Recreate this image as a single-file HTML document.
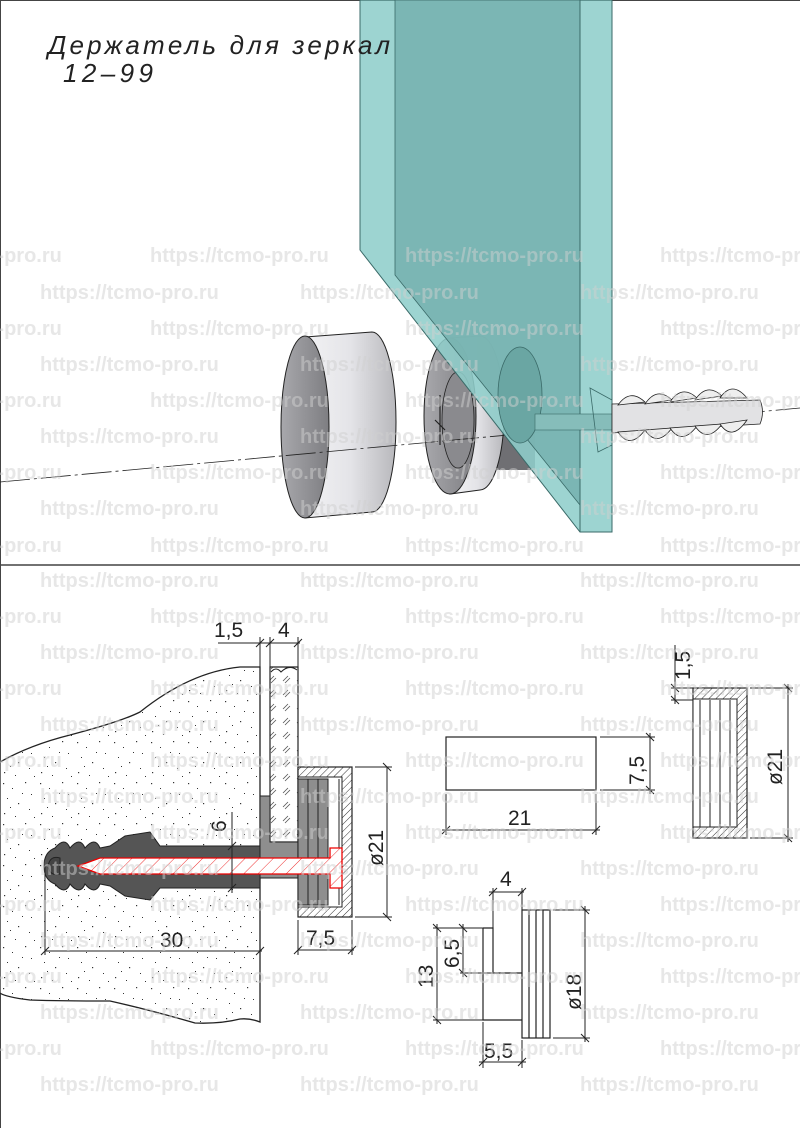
<!DOCTYPE html>
<html><head><meta charset="utf-8"><style>html,body{margin:0;padding:0;background:#fff}svg{display:block}</style></head><body>
<svg width="800" height="1128" viewBox="0 0 800 1128" xmlns="http://www.w3.org/2000/svg" font-family="Liberation Sans, sans-serif">
<defs>
<pattern id="dots" width="37" height="41" patternUnits="userSpaceOnUse">
<g fill="#333"><rect x="3" y="4" width="1.2" height="1.2"/><rect x="12" y="9" width="1" height="1"/><rect x="25" y="3" width="1.2" height="1.2"/><rect x="31" y="15" width="1" height="1"/><rect x="7" y="19" width="1" height="1"/><rect x="18" y="24" width="1.2" height="1.2"/><rect x="29" y="30" width="1" height="1"/><rect x="4" y="34" width="1.2" height="1.2"/><rect x="15" y="37" width="1" height="1"/><rect x="22" y="14" width="1" height="1"/><rect x="34" y="38" width="1" height="1"/><rect x="10" y="28" width="1" height="1"/></g>
</pattern>
<pattern id="hatch" width="5" height="5" patternUnits="userSpaceOnUse" patternTransform="rotate(45)"><rect width="5" height="5" fill="#fff"/><line x1="0" y1="0" x2="0" y2="5" stroke="#333" stroke-width="1"/></pattern>
<pattern id="ghatch" width="14" height="14" patternUnits="userSpaceOnUse"><rect width="14" height="14" fill="#fff"/><path d="M3 9 L8 4 M5 11 L10 6" stroke="#555" stroke-width="0.8"/></pattern>
<pattern id="rhatch" width="10" height="10" patternUnits="userSpaceOnUse" patternTransform="rotate(45)"><rect width="10" height="10" fill="#fff"/><line x1="0" y1="0" x2="0" y2="10" stroke="#e33" stroke-width="1"/></pattern>
<linearGradient id="cyl" x1="0" y1="0" x2="1" y2="0"><stop offset="0" stop-color="#f2f2f4"/><stop offset="0.5" stop-color="#e4e4e8"/><stop offset="1" stop-color="#b8b8bc"/></linearGradient>
<linearGradient id="face" x1="0" y1="0" x2="1" y2="0"><stop offset="0" stop-color="#a8a8ac"/><stop offset="1" stop-color="#7e7e82"/></linearGradient>
</defs>
<rect width="800" height="1128" fill="#fff"/>
<line x1="0" y1="0" x2="0" y2="1128" stroke="#444" stroke-width="2"/>
<line x1="0" y1="0.5" x2="800" y2="0.5" stroke="#444"/>
<line x1="0" y1="565" x2="800" y2="565" stroke="#444" stroke-width="1.5"/>

<!-- ===== TOP 3D ===== -->
<path d="M305 337 L372 332 A24 90 0 0 1 372 512 L305 518 Z" fill="url(#cyl)" stroke="#222"/>
<ellipse cx="305" cy="427" rx="24" ry="91" fill="url(#face)" stroke="#222"/>
<rect x="495" y="425" width="40" height="45" fill="#6f6f73"/>
<path d="M450 338 L480 336 A24 77 0 0 1 480 490 L450 494 Z" fill="url(#cyl)" stroke="#222"/>
<ellipse cx="450" cy="416" rx="26" ry="78" fill="url(#face)" stroke="#222"/>
<ellipse cx="458" cy="420" rx="16" ry="48" fill="#8a8a8e" stroke="#222" stroke-width="0.8"/>
<path d="M440 395 V445 M435 420 L445 430" stroke="#222" stroke-width="1.2"/>
<path d="M0 482 L800 408" stroke="#222" stroke-width="0.8" stroke-dasharray="30 4 3 4"/>
<polygon points="360,0 612,0 612,532 580,532 360,250" fill="#8fcecb" fill-opacity="0.88" stroke="#3a6a68"/>
<polygon points="395,0 580,0 580,505 395,275" fill="#78b3b0" fill-opacity="0.9" stroke="#3a6a68" stroke-width="0.8"/>
<line x1="580" y1="0" x2="580" y2="532" stroke="#3a6a68"/>
<ellipse cx="520" cy="395" rx="22" ry="48" fill="#6aa6a3" stroke="#3a6a68" stroke-width="0.8"/>
<rect x="535" y="414" width="78" height="16" fill="#86bdba" stroke="#3a6a68" stroke-width="0.6"/>
<path d="M590 388 L612 400 L612 445 L598 452 Z" fill="none" stroke="#3a6a68" stroke-width="0.8"/>
<path d="M612 404 L760 400 Q765 412 760 424 L612 433 Z" fill="#e2e2e4" stroke="#222" stroke-width="0.8"/>
<g fill="#eee" stroke="#222" stroke-width="0.8">
<path d="M618 405 Q630 388 645 402 Z"/><path d="M645 404 Q657 386 672 400 Z"/><path d="M670 402 Q682 384 697 398 Z"/><path d="M695 400 Q707 382 722 396 Z"/><path d="M720 398 Q732 380 747 398 Z"/>
<path d="M618 432 Q630 450 645 430 Z"/><path d="M645 430 Q657 448 672 428 Z"/><path d="M670 428 Q682 446 697 426 Z"/><path d="M695 426 Q707 444 722 424 Z"/><path d="M720 424 Q732 442 747 420 Z"/>
</g>
<text x="48" y="54" font-size="26" font-style="italic" fill="#222" textLength="342" lengthAdjust="spacing">Держатель для зеркал</text>
<text x="63" y="82" font-size="26" font-style="italic" fill="#222" textLength="90" lengthAdjust="spacing">12–99</text>

<!-- ===== BOTTOM LEFT SECTION ===== -->
<path d="M260 667 L260 1022 Q250 1018 240 1019 Q220 1024 195 1023 Q150 1010 110 1001 Q60 1001 30 1000 Q5 997 0 993 L0 762 Q30 745 70 735 Q120 722 140 712 Q190 672 240 667 Z" fill="#fff" stroke="#222" stroke-width="1.3"/>
<path d="M260 667 L260 1022 Q250 1018 240 1019 Q220 1024 195 1023 Q150 1010 110 1001 Q60 1001 30 1000 Q5 997 0 993 L0 762 Q30 745 70 735 Q120 722 140 712 Q190 672 240 667 Z" fill="url(#dots)"/>
<path d="M270 667 L298 667 L298 842 L270 842 Z" fill="url(#ghatch)" stroke="#222" stroke-width="1.2"/>
<path d="M271 672 Q276 666 281 672 Q289 664 297 670" fill="#fff" stroke="#222"/>
<line x1="260" y1="667" x2="260" y2="796" stroke="#222"/>
<path d="M260 796 L270 796 L270 842 L298 842 L298 878 L260 878 Z" fill="#8e8e8e" stroke="#222"/>
<rect x="298" y="767" width="54" height="150" fill="url(#hatch)" stroke="#222" stroke-width="1.2"/>
<rect x="298" y="777" width="44" height="130" fill="#fff" stroke="#222"/>
<rect x="298" y="779" width="30" height="126" fill="#8e8e8e" stroke="#222"/>
<line x1="308" y1="779" x2="308" y2="905" stroke="#222"/><line x1="318" y1="779" x2="318" y2="905" stroke="#222"/>
<line x1="339" y1="779" x2="339" y2="905" stroke="#222"/>
<path d="M260 846 L160 846 L150 832 L125 836 L110 846 L100 848 Q95 836 85 848 Q80 836 70 848 Q65 836 55 848 Q44 852 44 866 Q44 880 55 884 Q65 896 70 884 Q80 896 85 884 Q95 896 100 884 L110 886 L125 896 L150 900 L160 888 L260 888 Z" fill="#555" stroke="#222"/>
<path d="M48 866 Q50 855 60 858 L60 874 Q50 877 48 866 Z" fill="#444" stroke="#222"/>
<path d="M78 866 L100 858 L330 858 L330 848 L342 848 L342 888 L330 888 L330 874 L100 874 Z" fill="url(#rhatch)" stroke="#e00" stroke-width="1.3"/>
<g stroke="#222" stroke-width="1" fill="none">
<line x1="218" y1="643" x2="300" y2="643"/><line x1="260" y1="637" x2="260" y2="667"/><line x1="270" y1="637" x2="270" y2="667"/><line x1="298" y1="637" x2="298" y2="667"/>
<path d="M256 647 L264 639 M266 647 L274 639 M294 647 L302 639"/>
<line x1="232" y1="812" x2="232" y2="893"/><line x1="228" y1="846" x2="260" y2="846"/><line x1="228" y1="888" x2="260" y2="888"/>
<path d="M228 850 L236 842 M228 892 L236 884"/>
<line x1="45" y1="951" x2="262" y2="951"/><line x1="45" y1="866" x2="45" y2="955"/><path d="M41 955 L49 947 M256 955 L264 947"/>
<line x1="387" y1="767" x2="387" y2="917"/><line x1="355" y1="767" x2="392" y2="767"/><line x1="355" y1="917" x2="392" y2="917"/><path d="M383 763 L391 771 M383 913 L391 921"/>
<line x1="298" y1="950" x2="354" y2="950"/><line x1="298" y1="920" x2="298" y2="955"/><line x1="352" y1="920" x2="352" y2="955"/><path d="M294 954 L302 946 M348 954 L356 946"/>
</g>
<g font-size="21" fill="#222">
<text x="214" y="637">1,5</text><text x="278" y="637">4</text>
<text x="160" y="947">30</text><text x="306" y="945">7,5</text>
<text transform="translate(226 832) rotate(-90)">6</text>
<text transform="translate(383 866) rotate(-90)">ø21</text>
</g>

<rect x="446" y="737" width="150" height="53" fill="none" stroke="#222" stroke-width="1.2"/>
<g stroke="#222" fill="none">
<line x1="600" y1="737" x2="655" y2="737"/><line x1="600" y1="790" x2="655" y2="790"/><line x1="650" y1="733" x2="650" y2="794"/>
<path d="M646 733 L654 741 M646 786 L654 794"/>
<line x1="446" y1="794" x2="446" y2="835"/><line x1="596" y1="794" x2="596" y2="835"/><line x1="442" y1="830" x2="600" y2="830"/>
<path d="M442 834 L450 826 M592 834 L600 826"/>
</g>
<text x="508" y="825" font-size="21" fill="#222">21</text>
<text transform="translate(644 785) rotate(-90)" font-size="21" fill="#222">7,5</text>

<rect x="693" y="688" width="54" height="150" fill="url(#hatch)" stroke="#222" stroke-width="1.2"/>
<rect x="693" y="699" width="44" height="128" fill="#fff" stroke="#222"/>
<g stroke="#222"><line x1="700" y1="700" x2="700" y2="827"/><line x1="710" y1="700" x2="710" y2="827"/><line x1="720" y1="700" x2="720" y2="827"/><line x1="730" y1="700" x2="730" y2="827"/></g>
<g stroke="#222" fill="none">
<line x1="750" y1="688" x2="793" y2="688"/><line x1="750" y1="838" x2="793" y2="838"/><line x1="788" y1="684" x2="788" y2="842"/><path d="M784 684 L792 692 M784 834 L792 842"/>
<line x1="675" y1="645" x2="675" y2="704"/><line x1="671" y1="688" x2="693" y2="688"/><line x1="671" y1="700" x2="693" y2="700"/><path d="M671 684 L679 692 M671 696 L679 704"/>
</g>
<text transform="translate(690 680) rotate(-90)" font-size="21" fill="#222">1,5</text>
<text transform="translate(782 785) rotate(-90)" font-size="21" fill="#222">ø21</text>

<g stroke="#222" fill="none" stroke-width="1.2">
<path d="M483 928 L493 928 L493 973 L522 973 M483 928 L483 1020 L522 1020"/>
<rect x="522" y="910" width="28" height="128" fill="#fff"/>
<line x1="529" y1="910" x2="529" y2="1038"/><line x1="536" y1="910" x2="536" y2="1038"/><line x1="543" y1="910" x2="543" y2="1038"/>
</g>
<g stroke="#222" fill="none">
<line x1="489" y1="892" x2="524" y2="892"/><line x1="493" y1="888" x2="493" y2="928"/><line x1="522" y1="888" x2="522" y2="910"/><path d="M489 896 L497 888 M518 896 L526 888"/>
<line x1="553" y1="910" x2="590" y2="910"/><line x1="553" y1="1038" x2="590" y2="1038"/><line x1="585" y1="906" x2="585" y2="1042"/><path d="M581 906 L589 914 M581 1034 L589 1042"/>
<line x1="433" y1="928" x2="483" y2="928"/><line x1="433" y1="1020" x2="483" y2="1020"/><line x1="437" y1="924" x2="437" y2="1024"/><path d="M433 924 L441 932 M433 1016 L441 1024"/>
<line x1="463" y1="924" x2="463" y2="977"/><line x1="460" y1="973" x2="493" y2="973"/><path d="M459 924 L467 932 M459 969 L467 977"/>
<line x1="483" y1="1022" x2="483" y2="1068"/><line x1="522" y1="1040" x2="522" y2="1068"/><line x1="479" y1="1062" x2="526" y2="1062"/><path d="M479 1066 L487 1058 M518 1066 L526 1058"/>
</g>
<g font-size="21" fill="#222">
<text x="500" y="886">4</text>
<text x="484" y="1058">5,5</text>
<text transform="translate(433 988) rotate(-90)">13</text>
<text transform="translate(459 968) rotate(-90)">6,5</text>
<text transform="translate(581 1010) rotate(-90)">ø18</text>
</g>

<!-- watermarks on top -->
<g fill="#d0d0d0" fill-opacity="0.5" font-weight="bold" font-size="20">
<text x="-117" y="262">https://tcmo-pro.ru</text><text x="150" y="262">https://tcmo-pro.ru</text><text x="405" y="262">https://tcmo-pro.ru</text><text x="660" y="262">https://tcmo-pro.ru</text>
<text x="40" y="299">https://tcmo-pro.ru</text><text x="300" y="299">https://tcmo-pro.ru</text><text x="580" y="299">https://tcmo-pro.ru</text>
<text x="-117" y="335">https://tcmo-pro.ru</text><text x="150" y="335">https://tcmo-pro.ru</text><text x="405" y="335">https://tcmo-pro.ru</text><text x="660" y="335">https://tcmo-pro.ru</text>
<text x="40" y="371">https://tcmo-pro.ru</text><text x="300" y="371">https://tcmo-pro.ru</text><text x="580" y="371">https://tcmo-pro.ru</text>
<text x="-117" y="407">https://tcmo-pro.ru</text><text x="150" y="407">https://tcmo-pro.ru</text><text x="405" y="407">https://tcmo-pro.ru</text><text x="660" y="407">https://tcmo-pro.ru</text>
<text x="40" y="443">https://tcmo-pro.ru</text><text x="300" y="443">https://tcmo-pro.ru</text><text x="580" y="443">https://tcmo-pro.ru</text>
<text x="-117" y="479">https://tcmo-pro.ru</text><text x="150" y="479">https://tcmo-pro.ru</text><text x="405" y="479">https://tcmo-pro.ru</text><text x="660" y="479">https://tcmo-pro.ru</text>
<text x="40" y="515">https://tcmo-pro.ru</text><text x="300" y="515">https://tcmo-pro.ru</text><text x="580" y="515">https://tcmo-pro.ru</text>
<text x="-117" y="552">https://tcmo-pro.ru</text><text x="150" y="552">https://tcmo-pro.ru</text><text x="405" y="552">https://tcmo-pro.ru</text><text x="660" y="552">https://tcmo-pro.ru</text>
<text x="40" y="587">https://tcmo-pro.ru</text><text x="300" y="587">https://tcmo-pro.ru</text><text x="580" y="587">https://tcmo-pro.ru</text>
<text x="-117" y="623">https://tcmo-pro.ru</text><text x="150" y="623">https://tcmo-pro.ru</text><text x="405" y="623">https://tcmo-pro.ru</text><text x="660" y="623">https://tcmo-pro.ru</text>
<text x="40" y="659">https://tcmo-pro.ru</text><text x="300" y="659">https://tcmo-pro.ru</text><text x="580" y="659">https://tcmo-pro.ru</text>
<text x="-117" y="695">https://tcmo-pro.ru</text><text x="150" y="695">https://tcmo-pro.ru</text><text x="405" y="695">https://tcmo-pro.ru</text><text x="660" y="695">https://tcmo-pro.ru</text>
<text x="40" y="731">https://tcmo-pro.ru</text><text x="300" y="731">https://tcmo-pro.ru</text><text x="580" y="731">https://tcmo-pro.ru</text>
<text x="-117" y="767">https://tcmo-pro.ru</text><text x="150" y="767">https://tcmo-pro.ru</text><text x="405" y="767">https://tcmo-pro.ru</text><text x="660" y="767">https://tcmo-pro.ru</text>
<text x="40" y="803">https://tcmo-pro.ru</text><text x="300" y="803">https://tcmo-pro.ru</text><text x="580" y="803">https://tcmo-pro.ru</text>
<text x="-117" y="839">https://tcmo-pro.ru</text><text x="150" y="839">https://tcmo-pro.ru</text><text x="405" y="839">https://tcmo-pro.ru</text><text x="660" y="839">https://tcmo-pro.ru</text>
<text x="40" y="875">https://tcmo-pro.ru</text><text x="300" y="875">https://tcmo-pro.ru</text><text x="580" y="875">https://tcmo-pro.ru</text>
<text x="-117" y="911">https://tcmo-pro.ru</text><text x="150" y="911">https://tcmo-pro.ru</text><text x="405" y="911">https://tcmo-pro.ru</text><text x="660" y="911">https://tcmo-pro.ru</text>
<text x="40" y="947">https://tcmo-pro.ru</text><text x="300" y="947">https://tcmo-pro.ru</text><text x="580" y="947">https://tcmo-pro.ru</text>
<text x="-117" y="983">https://tcmo-pro.ru</text><text x="150" y="983">https://tcmo-pro.ru</text><text x="405" y="983">https://tcmo-pro.ru</text><text x="660" y="983">https://tcmo-pro.ru</text>
<text x="40" y="1019">https://tcmo-pro.ru</text><text x="300" y="1019">https://tcmo-pro.ru</text><text x="580" y="1019">https://tcmo-pro.ru</text>
<text x="-117" y="1055">https://tcmo-pro.ru</text><text x="150" y="1055">https://tcmo-pro.ru</text><text x="405" y="1055">https://tcmo-pro.ru</text><text x="660" y="1055">https://tcmo-pro.ru</text>
<text x="40" y="1091">https://tcmo-pro.ru</text><text x="300" y="1091">https://tcmo-pro.ru</text><text x="580" y="1091">https://tcmo-pro.ru</text>
</g>
</svg>
</body></html>
